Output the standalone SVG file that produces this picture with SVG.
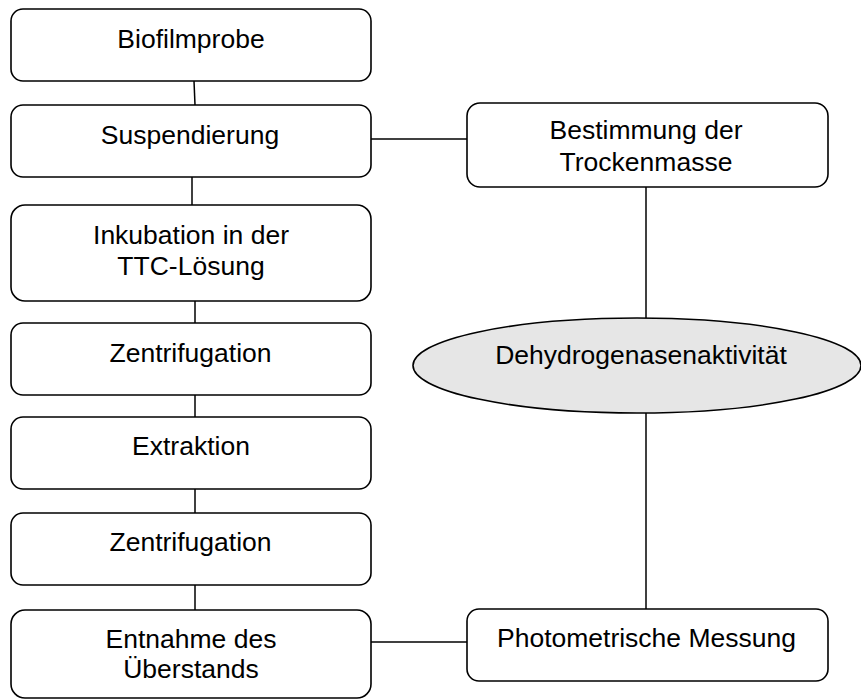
<svg xmlns="http://www.w3.org/2000/svg" width="861" height="700" viewBox="0 0 861 700">
  <style>
    .box { fill: #ffffff; stroke: #000000; stroke-width: 1.6; }
    .oval { fill: #e6e6e6; stroke: #000000; stroke-width: 1.6; }
    .link { stroke: #000000; stroke-width: 1.5; fill: none; }
    .lbl { font-family: "Liberation Sans", Arial, sans-serif; font-size: 26.5px; fill: #000000; text-anchor: middle; }
  </style>
  <rect width="861" height="700" fill="#ffffff"/>

  <!-- connectors -->
  <g id="connectors">
    <line class="link" x1="194" y1="81" x2="195" y2="105"/>
    <line class="link" x1="192" y1="177" x2="192" y2="205"/>
    <line class="link" x1="195" y1="301" x2="195" y2="323"/>
    <line class="link" x1="195" y1="395" x2="195" y2="417"/>
    <line class="link" x1="195" y1="489" x2="195" y2="513"/>
    <line class="link" x1="195" y1="585" x2="195" y2="610"/>
    <line class="link" x1="371" y1="139" x2="467" y2="139"/>
    <line class="link" x1="371" y1="642" x2="467" y2="642"/>
    <line class="link" x1="646" y1="187" x2="646" y2="318"/>
    <line class="link" x1="646" y1="413" x2="646" y2="609"/>
  </g>

  <!-- process chain -->
  <g id="biofilmprobe">
    <rect class="box" x="11" y="9" width="360" height="72" rx="12"/>
    <text class="lbl" x="191" y="48">Biofilmprobe</text>
  </g>
  <g id="suspendierung">
    <rect class="box" x="11" y="105" width="360" height="72" rx="12"/>
    <text class="lbl" x="190" y="144">Suspendierung</text>
  </g>
  <g id="inkubation">
    <rect class="box" x="11" y="205" width="360" height="96" rx="14"/>
    <text class="lbl" x="191" y="244">Inkubation in der</text>
    <text class="lbl" x="191" y="275">TTC-Lösung</text>
  </g>
  <g id="zentrifugation1">
    <rect class="box" x="11" y="323" width="360" height="72" rx="12"/>
    <text class="lbl" x="190.5" y="362">Zentrifugation</text>
  </g>
  <g id="extraktion">
    <rect class="box" x="11" y="417" width="360" height="72" rx="12"/>
    <text class="lbl" x="191" y="455">Extraktion</text>
  </g>
  <g id="zentrifugation2">
    <rect class="box" x="11" y="513" width="360" height="72" rx="12"/>
    <text class="lbl" x="190.5" y="551">Zentrifugation</text>
  </g>
  <g id="entnahme">
    <rect class="box" x="11" y="610" width="360" height="88" rx="14"/>
    <text class="lbl" x="191" y="648">Entnahme des</text>
    <text class="lbl" x="191" y="678">Überstands</text>
  </g>

  <!-- side branch -->
  <g id="trockenmasse">
    <rect class="box" x="467" y="103" width="361" height="84" rx="13"/>
    <text class="lbl" x="646" y="139">Bestimmung der</text>
    <text class="lbl" x="646" y="171">Trockenmasse</text>
  </g>
  <g id="dehydrogenaseaktivitaet">
    <ellipse class="oval" cx="637" cy="365.5" rx="224" ry="47.5"/>
    <text class="lbl" x="641" y="364">Dehydrogenasenaktivität</text>
  </g>
  <g id="photometrie">
    <rect class="box" x="467" y="609" width="361" height="72" rx="12"/>
    <text class="lbl" x="646.5" y="647">Photometrische Messung</text>
  </g>
</svg>
